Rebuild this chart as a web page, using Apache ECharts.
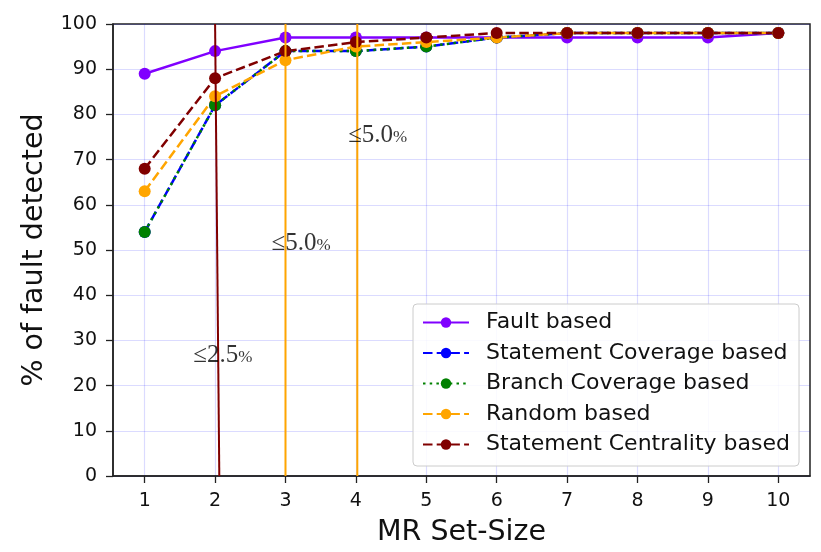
<!DOCTYPE html>
<html>
<head>
<meta charset="utf-8">
<script src="https://cdn.jsdelivr.net/npm/echarts@6/dist/echarts.min.js"></script>
<style>
  html, body { margin: 0; padding: 0; background: #fff; }
  #chart { width: 821px; height: 552px; }
</style>
</head>
<body>
<div id="chart"></div>
<script>
// MR set sizes on the x axis
const setSizes = [1, 2, 3, 4, 5, 6, 7, 8, 9, 10];

// % of fault detected per strategy
const faultBased      = [89, 94, 97, 97, 97, 97, 97, 97, 97, 98];
const stmtCoverage    = [54, 82, 94, 94, 95, 97, 98, 98, 98, 98];
const branchCoverage  = [54, 82, 94, 94, 95, 97, 98, 98, 98, 98];
const randomBased     = [63, 84, 92, 95, 96, 97, 98, 98, 98, 98];
const stmtCentrality  = [68, 88, 94, 96, 97, 98, 98, 98, 98, 98];

// threshold markers: [x at top, x at bottom]
const markerLineDarkRed = [[2.0, 100], [2.06, 0]];
const markerLineOrange1 = [[3.0, 100], [3.0, 0]];
const markerLineOrange2 = [[4.02, 100], [4.02, 0]];

// annotation texts and their anchor (left, bottom)
const noteTexts = ['≤2.5', '≤5.0', '≤5.0'];
const notePoints = [[1.69, 24.0], [2.8, 48.7], [3.89, 72.6]];

const xTicks = [1, 2, 3, 4, 5, 6, 7, 8, 9, 10];

const chart = echarts.init(document.getElementById('chart'), null, { renderer: 'canvas' });

function pairs(ys) {
    return setSizes.map((x, i) => [x, ys[i]]);
}

function lineSeries(name, ys, color, type) {
    return {
        name: name,
        type: 'line',
        data: pairs(ys),
        symbol: 'circle',
        symbolSize: 12,
        showAllSymbol: true,
        itemStyle: { color: color },
        lineStyle: { color: color, width: 2.5, type: type },
        emphasis: { disabled: true },
        animation: false
    };
}

function markerSeries(data, color) {
    return {
        type: 'line',
        data: data,
        symbol: 'none',
        lineStyle: { color: color, width: 2 },
        emphasis: { disabled: true },
        animation: false,
        z: 5
    };
}

const gridColor = 'rgba(0, 0, 255, 0.14)';
const font = 'DejaVu Sans';
const dashed = [9.5, 4.2];
const dotted = [2.5, 4.2];

const option = {
    backgroundColor: '#fff',
    animation: false,
    grid: {
        left: 113, right: 11, top: 24, bottom: 75,
        show: true, borderColor: '#222', borderWidth: 1.5,
        backgroundColor: 'transparent'
    },
    xAxis: {
        type: 'value',
        min: 0.55,
        max: 10.45,
        name: 'MR Set-Size',
        nameLocation: 'middle',
        nameGap: 42,
        nameTextStyle: { fontFamily: font, fontSize: 28.5, color: '#111' },
        axisLine: { show: true, lineStyle: { color: '#222', width: 1.5 } },
        axisTick: { show: true, inside: false, length: 7, customValues: xTicks, lineStyle: { color: '#222', width: 1.3 } },
        axisLabel: { customValues: xTicks, fontFamily: font, fontSize: 19, color: '#111', margin: 16 },
        splitLine: { show: true, lineStyle: { color: gridColor, width: 1.2 } }
    },
    yAxis: {
        type: 'value',
        min: 0,
        max: 100,
        interval: 10,
        name: '% of fault detected',
        nameLocation: 'middle',
        nameGap: 64,
        nameTextStyle: { fontFamily: font, fontSize: 28.5, color: '#111' },
        axisLine: { show: true, lineStyle: { color: '#222', width: 1.5 } },
        axisTick: { show: true, inside: false, length: 7, lineStyle: { color: '#222', width: 1.3 } },
        axisLabel: { fontFamily: font, fontSize: 19, color: '#111', margin: 16 },
        splitLine: { show: true, lineStyle: { color: gridColor, width: 1.2 } }
    },
    legend: {
        orient: 'vertical',
        left: 413,
        top: 304,
        padding: [7, 9, 10, 9],
        itemGap: 7.5,
        itemWidth: 46,
        itemHeight: 13,
        backgroundColor: 'rgba(255,255,255,0.85)',
        borderColor: '#ccc',
        borderWidth: 1,
        borderRadius: 4,
        textStyle: { fontFamily: font, fontSize: 22, lineHeight: 23, color: '#111', padding: [0, 0, 0, 12] },
        data: ['Fault based', 'Statement Coverage based', 'Branch Coverage based',
               'Random based', 'Statement Centrality based']
    },
    series: [
        lineSeries('Fault based', faultBased, '#8000ff', 'solid'),
        lineSeries('Statement Coverage based', stmtCoverage, '#0000ff', dashed),
        lineSeries('Branch Coverage based', branchCoverage, '#008000', dotted),
        lineSeries('Random based', randomBased, '#ffa500', dashed),
        lineSeries('Statement Centrality based', stmtCentrality, '#800000', dashed),
        markerSeries(markerLineDarkRed, '#800000'),
        markerSeries(markerLineOrange1, '#ffa500'),
        markerSeries(markerLineOrange2, '#ffa500'),
        {
            type: 'scatter',
            data: notePoints,
            symbolSize: 0,
            silent: true,
            animation: false,
            z: 6,
            label: {
                show: true,
                position: 'inside',
                align: 'left',
                verticalAlign: 'bottom',
                formatter: (p) => '{a|' + noteTexts[p.dataIndex] + '}{b|%}',
                rich: {
                    a: { fontFamily: 'Liberation Serif', fontSize: 25, color: '#000', textBorderWidth: 0 },
                    b: { fontFamily: 'Liberation Serif', fontSize: 17, color: '#000', textBorderWidth: 0, padding: [5, 0, 0, 0] }
                }
            }
        }
    ]
};

chart.setOption(option);
</script>
</body>
</html>
